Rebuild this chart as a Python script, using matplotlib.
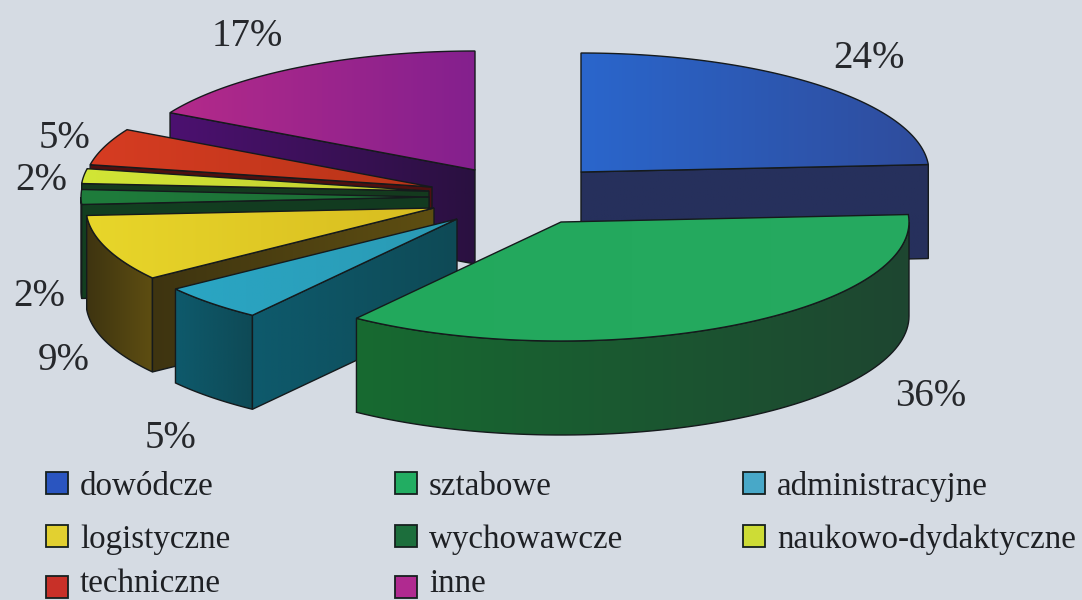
#!/usr/bin/env python3
import matplotlib
matplotlib.use("Agg")
import matplotlib.pyplot as plt
import numpy as np
from matplotlib.colors import LinearSegmentedColormap
from matplotlib.patches import Polygon, Rectangle

CATEGORIES = ["dowódcze", "sztabowe", "administracyjne", "logistyczne",
              "wychowawcze", "naukowo-dydaktyczne", "techniczne", "inne"]
SHARES = [24, 36, 5, 9, 2, 2, 5, 17]

# top face colours left/right, side face colours left/right
TOP = ["#2a66cc", "#22a85c", "#2aa6c4", "#e8d62a", "#1f7d3c", "#d2e636", "#d63c22", "#b42a8a"]
TOP_R = ["#2f4c9c", "#26aa60", "#2a9ab4", "#d8bc20", "#1c6a34", "#c2cc30", "#b83418", "#84208e"]
SIDE = ["#1c2e68", "#176a30", "#0e5a6c", "#3e3410", "#123f20", "#143a1e", "#4e1010", "#4c1070"]
SIDE_R = ["#26305c", "#1e4630", "#0e4a56", "#5e4e12", "#123a20", "#143a1e", "#4e1010", "#2a1040"]
SWATCH = ["#2a55c0", "#22ad62", "#48a8c8", "#e2d030", "#1c6e3c", "#cddc36", "#c83028", "#b02a90"]

# exploded centre of every slice and the shared ellipse
CENTRES = [(581, 172), (561, 222), (457, 219), (434, 208),
           (429, 197), (429, 191), (432, 187), (475, 170)]
RX, RY, DEPTH = 348, 119, 94
DRAW_ORDER = [7, 0, 6, 5, 4, 3, 2, 1]

PCT_LABELS = ["24%", "36%", "5%", "9%", "2%", "2%", "5%", "17%"]
PCT_POS = [(869, 58), (931, 397), (171, 439), (64, 361), (39, 296), (41, 181), (65, 139), (247, 36)]

LEGEND_COLS = [46, 395, 743]
LEGEND_ROWS = [472, 525, 576]
LEGEND_BASE = [495, 548, 592]
BG = "#d5dbe3"
EDGE = "#151a1c"

plt.rcParams["font.family"] = ["Liberation Serif", "DejaVu Serif"]


def pt(centre, theta):
    return (centre[0] + RX * np.sin(theta), centre[1] - RY * np.cos(theta))


def arc(centre, t1, t2):
    t = np.linspace(t1, t2, 80)
    return np.column_stack([centre[0] + RX * np.sin(t), centre[1] - RY * np.cos(t)])


def face(ax, pts, c1, c2, z):
    pts = np.asarray(pts)
    poly = Polygon(pts, closed=True, facecolor="none", edgecolor=EDGE, linewidth=1.0, zorder=z + 0.5)
    ax.add_patch(poly)
    cmap = LinearSegmentedColormap.from_list("f", [c1, c2])
    x0, x1 = pts[:, 0].min(), pts[:, 0].max()
    y0, y1 = pts[:, 1].min(), pts[:, 1].max()
    im = ax.imshow(np.linspace(0, 1, 128).reshape(1, -1), cmap=cmap, aspect="auto",
                   extent=(x0, max(x1, x0 + 1), max(y1, y0 + 1), y0), zorder=z)
    im.set_clip_path(poly)


def slice3d(ax, i, t1, t2, z):
    c = CENTRES[i]
    down = np.array([0, DEPTH])
    # outer band, only the part turned to the viewer
    a, b = max(t1, np.pi / 2), min(t2, 3 * np.pi / 2)
    if b > a:
        top = arc(c, a, b)
        face(ax, np.vstack([top, (top + down)[::-1]]), SIDE[i], SIDE_R[i], z)
    # cut faces
    if np.sin(t1) < -1e-6:
        p = np.array(pt(c, t1))
        face(ax, [c, p, p + down, np.array(c) + down], SIDE[i], SIDE_R[i], z + 1)
    if np.sin(t2) > 1e-6:
        p = np.array(pt(c, t2))
        face(ax, [c, p, p + down, np.array(c) + down], SIDE_R[i], SIDE_R[i], z + 1)
    face(ax, np.vstack([[c], arc(c, t1, t2)]), TOP[i], TOP_R[i], z + 2)


def main():
    fig = plt.figure(figsize=(10.82, 6.0), dpi=100, facecolor=BG)
    ax = fig.add_axes([0, 0, 1, 1])
    ax.set_facecolor(BG)
    ax.axis("off")

    edges = np.cumsum([0] + SHARES) / sum(SHARES) * 2 * np.pi
    for n, i in enumerate(DRAW_ORDER):
        slice3d(ax, i, edges[i], edges[i + 1], 2 + n * 4)

    for label, (x, y) in zip(PCT_LABELS, PCT_POS):
        ax.text(x, y, label, fontsize=28, color="#26282c", ha="center", va="center", zorder=50)

    for k, (name, color) in enumerate(zip(CATEGORIES, SWATCH)):
        x, row = LEGEND_COLS[k % 3], k // 3
        ax.add_patch(Rectangle((x, LEGEND_ROWS[row]), 22, 22, facecolor=color, edgecolor="#16201f",
                               linewidth=1.3, zorder=50))
        ax.text(x + 34, LEGEND_BASE[row], name, fontsize=23.8, color="#1e2024", ha="left",
                va="baseline", zorder=50)

    ax.set_xlim(0, 1082)
    ax.set_ylim(600, 0)
    fig.savefig("out.png", dpi=100, facecolor=BG)
    plt.close(fig)


if __name__ == "__main__":
    main()
